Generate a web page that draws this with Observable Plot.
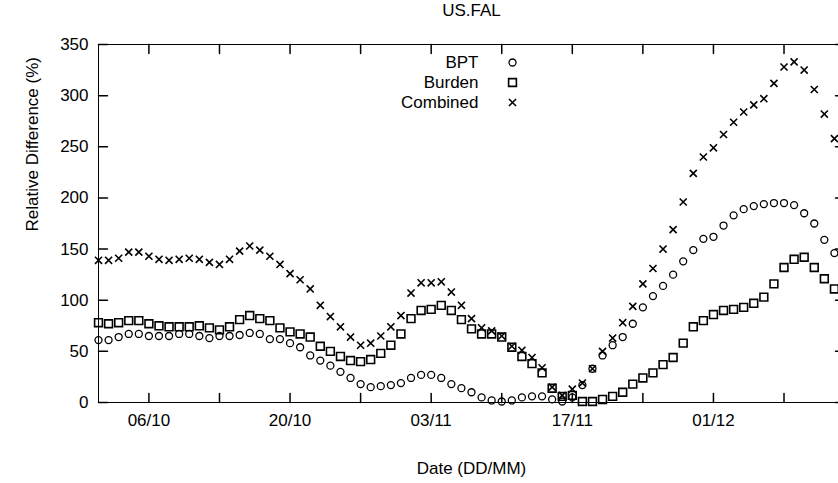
<!DOCTYPE html>
<html><head><meta charset="utf-8">
<script src="https://cdn.jsdelivr.net/npm/d3@7"></script>
<script src="https://cdn.jsdelivr.net/npm/@observablehq/plot@0.6"></script>
<style>html,body{margin:0;padding:0;overflow:hidden;background:#fff}</style>
</head><body><div id="chart"></div>
<script>
const dates = [
  "01/10","02/10","03/10","04/10","05/10","06/10","07/10","08/10","09/10","10/10",
  "11/10","12/10","13/10","14/10","15/10","16/10","17/10","18/10","19/10","20/10",
  "21/10","22/10","23/10","24/10","25/10","26/10","27/10","28/10","29/10","30/10",
  "31/10","01/11","02/11","03/11","04/11","05/11","06/11","07/11","08/11","09/11",
  "10/11","11/11","12/11","13/11","14/11","15/11","16/11","17/11","18/11","19/11",
  "20/11","21/11","22/11","23/11","24/11","25/11","26/11","27/11","28/11","29/11",
  "30/11","01/12","02/12","03/12","04/12","05/12","06/12","07/12","08/12","09/12",
  "10/12","11/12","12/12","13/12"
];
const bpt = [61,61,64,67,67,65,65,65,67,67, 65,63,65,65,66,68,67,62,62,58,
  54,46,41,36,30,24,18,15,16,17, 19,24,27,27,24,18,14,10,5,2,
  1,2,5,6,6,3,1,5,17,33, 46,56,64,77,93,104,114,125,138,149,
  160,162,173,183,189,192,194,195,195,193, 185,175,159,146];
const burden = [78,77,78,80,80,77,75,74,74,74, 75,73,71,74,81,85,82,80,73,69,
  67,64,55,50,45,41,40,42,48,56, 67,82,90,91,95,90,81,72,67,67,
  64,54,45,38,29,14,6,7,1,1, 3,6,10,18,24,29,37,44,58,74,
  80,86,90,91,93,97,103,116,132,140, 142,132,121,111];
const combined = [139,139,141,147,147,143,140,139,140,141, 140,137,135,140,148,153,149,143,135,126,
  120,111,95,84,74,64,56,58,65,74, 85,107,117,117,118,108,95,82,73,70,
  65,55,51,44,34,15,7,13,19,33, 50,63,78,94,116,131,150,169,196,224,
  240,249,262,274,284,291,297,312,328,333, 325,306,282,258];
const seriesNames = ["BPT","Burden","Combined"];
const seriesSymbols = ["circle","square","times"];
const xDomain = ["01/10","14/12"];
const xTicks = ["06/10","13/10","20/10","27/10","03/11","10/11","17/11","24/11","01/12","08/12"];
const xTickLabels = ["06/10","20/10","03/11","17/11","01/12"];
const yTicks = [0,50,100,150,200,250,300,350];
const title = "US.FAL";
const xLabel = "Date (DD/MM)";
const yLabel = "Relative Difference (%)";

const parse = s => d3.utcParse("%d/%m/%Y")(s + "/2012");
const rows = dates.map((d, i) => ({date: parse(d), bpt: bpt[i], burden: burden[i], combined: combined[i]}));
const keys = ["bpt","burden","combined"];
const sizes = {circle: 3.5, square: 4.4, times: 3.3};
const widths = {circle: 1.3, square: 1.6, times: 1.6};
const tickShape = {draw(ctx, l) { ctx.moveTo(0, 0); ctx.lineTo(0, -l); }};
const TL = 9;

const marks = [
  Plot.frame({stroke: "black", strokeWidth: 1}),
  Plot.vector(xTicks.map(parse), {x: d => d, frameAnchor: "bottom", rotate: 0, length: TL, anchor: "start", shape: tickShape, stroke: "black"}),
  Plot.vector(xTicks.map(parse), {x: d => d, frameAnchor: "top", rotate: 180, length: TL, anchor: "start", shape: tickShape, stroke: "black"}),
  Plot.vector(yTicks, {y: d => d, frameAnchor: "left", rotate: 90, length: TL, anchor: "start", shape: tickShape, stroke: "black"}),
  Plot.vector(yTicks, {y: d => d, frameAnchor: "right", rotate: -90, length: TL, anchor: "start", shape: tickShape, stroke: "black"}),
  Plot.axisX({anchor: "bottom", ticks: xTickLabels.map(parse), tickFormat: d3.utcFormat("%d/%m"), tickSize: 0, tickPadding: 11, label: null, fontSize: 17}),
  Plot.axisY({anchor: "left", ticks: yTicks, tickSize: 0, tickPadding: 10, label: null, fontSize: 17}),
  Plot.text([title], {text: d => d, frameAnchor: "top", lineAnchor: "middle", dy: -34, fontSize: 17}),
  Plot.text([xLabel], {text: d => d, frameAnchor: "bottom", lineAnchor: "middle", dy: 66, fontSize: 17}),
  Plot.text([yLabel], {text: d => d, frameAnchor: "left", lineAnchor: "middle", rotate: -90, dx: -66, dy: 8, fontSize: 17})
];
keys.forEach((k, j) => {
  const sym = seriesSymbols[j];
  marks.push(Plot.dot(rows, {x: "date", y: k, symbol: sym, r: sizes[sym], stroke: "black", strokeWidth: widths[sym], fill: "none"}));
  marks.push(Plot.text([seriesNames[j]], {text: d => d, frameAnchor: "top-left", lineAnchor: "middle", dx: 380, dy: 18 + 20 * j, textAnchor: "end", fontSize: 17}));
  marks.push(Plot.dot([seriesNames[j]], {frameAnchor: "top-left", dx: 414, dy: 18 + 20 * j, symbol: sym, r: sizes[sym], stroke: "black", strokeWidth: widths[sym], fill: "none"}));
});

const chart = Plot.plot({
  width: 848, height: 483,
  marginLeft: 98, marginRight: 4, marginTop: 44, marginBottom: 81,
  x: {type: "utc", domain: xDomain.map(parse)},
  y: {domain: [0, 350]},
  style: "max-width:none;font-family:'Liberation Sans',Arial,sans-serif;font-size:17px;color:black;background:white;overflow:visible",
  marks
});
document.getElementById("chart").appendChild(chart);
</script>
</body></html>
